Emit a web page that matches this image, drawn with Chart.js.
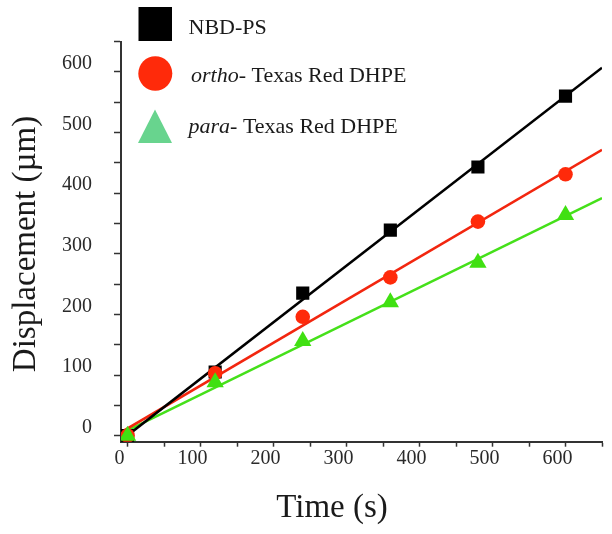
<!DOCTYPE html>
<html>
<head>
<meta charset="utf-8">
<script src="https://cdn.jsdelivr.net/npm/chart.js@4/dist/chart.umd.min.js"></script>
<style>
  html, body { margin: 0; padding: 0; background: #fff; }
  #wrap { position: relative; width: 612px; height: 534px; }
</style>
</head>
<body>
<div id="wrap"><canvas id="c"></canvas></div>
<script>
// ---- data ----
const times   = [0, 120, 240, 360, 480, 600];            // Time (s)
const nbdPS   = [0, 105, 235, 339, 443, 560];            // NBD-PS
const orthoTR = [0, 103, 196, 261, 353, 431];            // ortho- Texas Red DHPE
const paraTR  = [0, 88, 156, 220, 285, 364];             // para- Texas Red DHPE
const xTickLabels = [0, 100, 200, 300, 400, 500, 600];
const yTickLabels = [0, 100, 200, 300, 400, 500, 600];
const seriesNames = ['NBD-PS', 'ortho-', 'para-'];
const xTitle = 'Time (s)';
const yTitle = 'Displacement (\u00b5m)';

const X_MIN = -9, X_MAX = 650, Y_MIN = -10, Y_MAX = 650, MINOR = 50;

function pts(ys) { return times.map((t, i) => ({ x: t, y: ys[i] })); }
function fit(ys) {
  const n = times.length;
  const mx = times.reduce((a, b) => a + b, 0) / n;
  const my = ys.reduce((a, b) => a + b, 0) / n;
  let sxy = 0, sxx = 0;
  for (let i = 0; i < n; i++) { sxy += (times[i] - mx) * (ys[i] - my); sxx += (times[i] - mx) ** 2; }
  const b = sxy / sxx, a = my - b * mx;
  return [{ x: X_MIN, y: a + b * X_MIN }, { x: X_MAX, y: a + b * X_MAX }];
}

const BLACK = '#000000', RED = '#f2260f', GREEN = '#45e01a';

const legendPlugin = {
  id: 'customDecor',
  afterDraw(chart) {
    const ctx = chart.ctx;
    ctx.save();
    // legend symbols
    ctx.fillStyle = '#000';
    ctx.fillRect(138.5, 7, 33.5, 34);
    ctx.fillStyle = '#ff2a0a';
    ctx.beginPath(); ctx.ellipse(155.3, 73.5, 17, 17.3, 0, 0, Math.PI * 2); ctx.fill();
    ctx.fillStyle = '#68d48e';
    ctx.beginPath(); ctx.moveTo(155, 109.5); ctx.lineTo(172, 143); ctx.lineTo(138, 143); ctx.closePath(); ctx.fill();
    // legend texts
    ctx.fillStyle = '#1a1a1a';
    ctx.textBaseline = 'alphabetic';
    ctx.textAlign = 'left';
    ctx.font = '22px "Liberation Serif"';
    ctx.fillText(seriesNames[0], 188.5, 33.5);
    ctx.font = 'italic 22px "Liberation Serif"';
    ctx.fillText(seriesNames[1], 191, 81.5);
    let w = ctx.measureText(seriesNames[1]).width;
    ctx.font = '22px "Liberation Serif"';
    ctx.fillText(' Texas Red DHPE', 191 + w, 81.5);
    ctx.font = 'italic 22px "Liberation Serif"';
    ctx.fillText(seriesNames[2], 188.5, 133);
    w = ctx.measureText(seriesNames[2]).width;
    ctx.font = '22px "Liberation Serif"';
    ctx.fillText(' Texas Red DHPE', 188.5 + w, 133);
    // axis titles
    ctx.fillStyle = '#1a1a1a';
    ctx.font = '33px "Liberation Serif"';
    ctx.textAlign = 'center';
    ctx.fillText(xTitle, 332, 517);
    ctx.translate(35, 244);
    ctx.rotate(-Math.PI / 2);
    ctx.fillText(yTitle, 0, 0);
    ctx.restore();
  }
};

const minorTicks = (scale) => {
  const out = [];
  for (let v = Math.ceil(scale.min / MINOR) * MINOR; v <= scale.max + 1e-9; v += MINOR) out.push({ value: v });
  scale.ticks = out;
};
const lbl = (list) => (v) => { const r = Math.round(v); return (Math.abs(v - r) < 1e-6 && list.includes(r)) ? String(r) : ''; };

new Chart(document.getElementById('c'), {
  type: 'scatter',
  data: {
    datasets: [
      { label: 'fit-para', type: 'line', data: fit(paraTR), borderColor: GREEN, borderWidth: 2.5, pointRadius: 0, order: 6 },
      { label: 'fit-ortho', type: 'line', data: fit(orthoTR), borderColor: RED, borderWidth: 2.5, pointRadius: 0, order: 5 },
      { label: 'fit-nbd', type: 'line', data: fit(nbdPS), borderColor: BLACK, borderWidth: 2.5, pointRadius: 0, order: 4 },
      { label: seriesNames[0], data: pts(nbdPS), pointStyle: 'rect', pointRadius: 9.3, backgroundColor: BLACK, borderWidth: 0, order: 3 },
      { label: seriesNames[1], data: pts(orthoTR), pointStyle: 'circle', pointRadius: 7.3, backgroundColor: '#ff2a0a', borderWidth: 0, order: 2 },
      { label: seriesNames[2], data: pts(paraTR), pointStyle: 'triangle', pointRadius: 10, backgroundColor: '#40e012', borderWidth: 0, order: 1 }
    ]
  },
  options: {
    responsive: true,
    maintainAspectRatio: false,
    animation: false,
    events: [],
    layout: { padding: { left: 0, right: 10, top: 41.5, bottom: 0 } },
    plugins: { legend: { display: false }, tooltip: { enabled: false } },
    scales: {
      x: {
        type: 'linear', min: X_MIN, max: X_MAX,
        afterBuildTicks: minorTicks,
        afterFit: (s) => { s.height = 92.3; },
        border: { display: true, color: '#333', width: 2 },
        grid: { drawOnChartArea: false, drawTicks: true, tickLength: 5, tickColor: '#333', tickWidth: 1.5 },
        ticks: {
          autoSkip: false, maxRotation: 0, minRotation: 0, padding: 0, labelOffset: -8,
          color: '#2a2a2a', font: { family: 'Liberation Serif', size: 20 },
          callback: lbl(xTickLabels)
        }
      },
      y: {
        type: 'linear', min: Y_MIN, max: Y_MAX,
        afterBuildTicks: minorTicks,
        afterFit: (s) => { s.width = 121; },
        border: { display: true, color: '#333', width: 2 },
        grid: { drawOnChartArea: false, drawTicks: true, tickLength: 7, tickColor: '#333', tickWidth: 1.5 },
        ticks: {
          autoSkip: false, padding: 22, labelOffset: -8,
          color: '#2a2a2a', font: { family: 'Liberation Serif', size: 20 },
          callback: lbl(yTickLabels)
        }
      }
    }
  },
  plugins: [legendPlugin]
});
</script>
</body>
</html>
